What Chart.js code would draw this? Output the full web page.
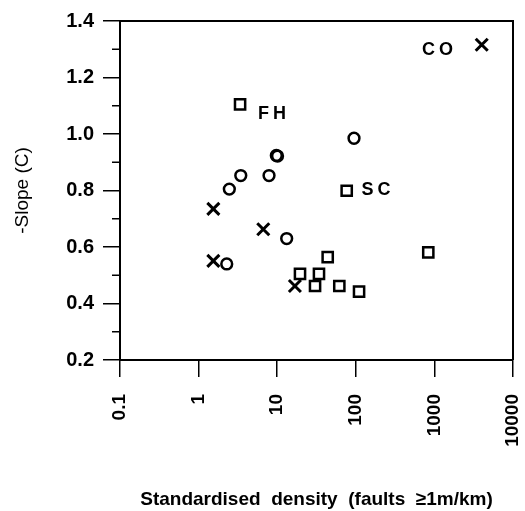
<!DOCTYPE html>
<html>
<head>
<meta charset="utf-8">
<script src="https://cdn.jsdelivr.net/npm/chart.js@4"></script>
<style>
  html, body { margin: 0; padding: 0; background: #fff; }
  #wrap { width: 525px; height: 511px; }
</style>
</head>
<body>
<div id="wrap"><canvas id="slopeChart"></canvas></div>
<script>
// Data (x = standardised density, y = -slope)
const squareX = [3.37, 76.6, 43.9, 836, 19.5, 34.0, 30.3, 61.7, 110];
const squareY = [1.105, 0.799, 0.564, 0.581, 0.505, 0.505, 0.462, 0.462, 0.442];

const circleX = [9.75, 10.1, 7.87, 3.44, 2.46, 13.2, 2.28, 94.9];
const circleY = [0.924, 0.922, 0.853, 0.853, 0.805, 0.630, 0.540, 0.985];

const crossX = [1.54, 6.65, 1.54, 16.8, 4000];
const crossY = [0.735, 0.663, 0.551, 0.462, 1.316];

// site labels placed in data coordinates
const siteNames = ['FH', 'SC', 'CO'];
const siteX = [8.59, 181, 1094];
const siteY = [1.069, 0.800, 1.299];

const xTickValues = [0.1, 1, 10, 100, 1000, 10000];
const yMinorTicks = [0.3, 0.5, 0.7, 0.9, 1.1, 1.3];

const FONT = '"Liberation Sans", Arial, sans-serif';

function pts(xs, ys) {
  return xs.map((x, i) => ({ x: x, y: ys[i] }));
}

// top/right frame, minor ticks and the site labels
const framePlugin = {
  id: 'frame',
  afterDraw(chart) {
    const { ctx, chartArea: a, scales: { x, y } } = chart;
    ctx.save();
    ctx.strokeStyle = '#000';
    ctx.lineWidth = 2;
    ctx.beginPath();
    ctx.moveTo(a.left, a.top);
    ctx.lineTo(a.right, a.top);
    ctx.lineTo(a.right, a.bottom);
    ctx.stroke();

    ctx.lineWidth = 1.5;
    ctx.beginPath();
    yMinorTicks.forEach(v => {
      const py = y.getPixelForValue(v);
      ctx.moveTo(a.left - 8, py);
      ctx.lineTo(a.left, py);
    });
    ctx.stroke();

    ctx.fillStyle = '#000';
    ctx.font = 'bold 18px ' + FONT;
    ctx.textAlign = 'center';
    ctx.textBaseline = 'middle';
    if ('letterSpacing' in ctx) ctx.letterSpacing = '4px';
    siteNames.forEach((name, i) => {
      ctx.fillText(name, x.getPixelForValue(siteX[i]) + 2, y.getPixelForValue(siteY[i]));
    });
    ctx.restore();
  }
};

const config = {
  type: 'scatter',
  data: {
    datasets: [
      {
        label: 'squares',
        data: pts(squareX, squareY),
        pointStyle: 'rect',
        pointRadius: 7.2,
        borderWidth: 2.5,
        borderColor: '#000',
        backgroundColor: 'rgba(0,0,0,0)'
      },
      {
        label: 'circles',
        data: pts(circleX, circleY),
        pointStyle: 'circle',
        pointRadius: 5.4,
        borderWidth: 2.5,
        borderColor: '#000',
        backgroundColor: 'rgba(0,0,0,0)'
      },
      {
        label: 'crosses',
        data: pts(crossX, crossY),
        pointStyle: 'crossRot',
        pointRadius: 8.5,
        borderWidth: 3,
        borderColor: '#000',
        backgroundColor: '#000'
      }
    ]
  },
  options: {
    responsive: true,
    maintainAspectRatio: false,
    animation: false,
    layout: { padding: { top: 16, right: 12, bottom: 0, left: 0 } },
    plugins: {
      legend: { display: false },
      tooltip: { enabled: false }
    },
    scales: {
      x: {
        type: 'logarithmic',
        min: 0.1,
        max: 10000,
        afterBuildTicks: (scale) => {
          scale.ticks = xTickValues.map(v => ({ value: v }));
        },
        afterFit: (scale) => {
          scale.height = 151;
          scale.paddingLeft = 0;
          scale.paddingRight = 0;
        },
        ticks: {
          minRotation: 90,
          maxRotation: 90,
          padding: 17,
          color: '#000',
          font: { family: FONT, size: 19, weight: 'bold' },
          callback: (v) => String(v)
        },
        grid: {
          drawOnChartArea: false,
          color: '#000',
          lineWidth: 1.5,
          tickLength: 17
        },
        border: { color: '#000', width: 2 },
        title: {
          display: true,
          text: 'Standardised  density  (faults  \u22651m/km)',
          color: '#000',
          font: { family: FONT, size: 19, weight: 'bold' },
          padding: { top: 0, bottom: 0 }
        }
      },
      y: {
        min: 0.2,
        max: 1.4,
        afterFit: (scale) => { scale.width = 120; },
        ticks: {
          stepSize: 0.2,
          padding: 9,
          color: '#000',
          font: { family: FONT, size: 20, weight: 'bold' },
          callback: (v) => Number(v).toFixed(1)
        },
        grid: {
          drawOnChartArea: false,
          color: '#000',
          lineWidth: 1.5,
          tickLength: 17
        },
        border: { color: '#000', width: 2 },
        title: {
          display: true,
          text: '-Slope (C)',
          color: '#000',
          font: { family: FONT, size: 19, weight: 'normal' },
          padding: { top: 11, bottom: 0 }
        }
      }
    }
  },
  plugins: [framePlugin]
};

window.addEventListener('DOMContentLoaded', () => {
  const slopeChart = new Chart(document.getElementById('slopeChart'), config);
});
</script>
</body>
</html>
